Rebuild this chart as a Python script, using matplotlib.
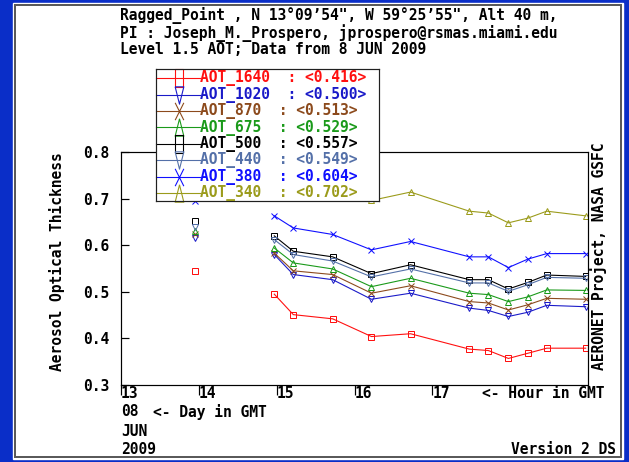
import matplotlib
matplotlib.use("Agg")
import matplotlib.pyplot as plt
from matplotlib.patches import Rectangle
from matplotlib.path import Path
import numpy as np

W, H, DPI = 629, 462, 100

# Measurement times (hour GMT, 8 June 2009)
hours = [13.957, 14.969, 15.214, 15.720, 16.218, 16.720,
         17.475, 17.720, 17.977, 18.225, 18.470, 18.970]

aot_1640 = [0.544, 0.495, 0.451, 0.442, 0.404, 0.410,
            0.377, 0.374, 0.357, 0.368, 0.379, 0.379]
aot_1020 = [0.616, 0.580, 0.537, 0.526, 0.484, 0.497,
            0.465, 0.460, 0.447, 0.456, 0.471, 0.468]
aot_870 = [0.624, 0.583, 0.545, 0.537, 0.497, 0.513,
           0.479, 0.476, 0.461, 0.472, 0.486, 0.484]
aot_675 = [0.630, 0.594, 0.562, 0.549, 0.511, 0.529,
           0.497, 0.494, 0.479, 0.489, 0.504, 0.503]
aot_500 = [0.651, 0.620, 0.587, 0.575, 0.539, 0.558,
           0.526, 0.526, 0.506, 0.520, 0.536, 0.533]
aot_440 = [0.638, 0.612, 0.580, 0.566, 0.532, 0.549,
           0.519, 0.519, 0.501, 0.515, 0.531, 0.529]
aot_380 = [0.695, 0.663, 0.637, 0.623, 0.590, 0.608,
           0.575, 0.575, 0.552, 0.570, 0.582, 0.582]
aot_340 = [0.790, 0.760, 0.745, 0.736, 0.696, 0.714,
           0.673, 0.669, 0.648, 0.658, 0.673, 0.663]

channels = ["AOT_1640", "AOT_1020", "AOT_870", "AOT_675",
            "AOT_500", "AOT_440", "AOT_380", "AOT_340"]
means = ["0.416", "0.500", "0.513", "0.529", "0.557", "0.549", "0.604", "0.702"]
series = [aot_1640, aot_1020, aot_870, aot_675, aot_500, aot_440, aot_380, aot_340]

colors = ["#ff1010", "#1a1ac8", "#8c4a1c", "#1a9a1a",
          "#000000", "#5470a8", "#1010ff", "#9b9b1b"]
small_markers = ["s", "v", "x", "^", "s", "v", "x", "^"]

xticks = [13, 14, 15, 16, 17]
yticks = [0.3, 0.4, 0.5, 0.6, 0.7, 0.8]

# tall, narrow symbols used in the key box
tall_square = Path([(-0.5, -1), (0.5, -1), (0.5, 1), (-0.5, 1), (-0.5, -1)])
tall_down = Path([(-0.5, 1), (0.5, 1), (0, -1), (-0.5, 1)])
tall_up = Path([(0, 1), (0.5, -1), (-0.5, -1), (0, 1)])
tall_x = Path([(-0.5, -1), (0.5, 1), (-0.5, 1), (0.5, -1)],
              [Path.MOVETO, Path.LINETO, Path.MOVETO, Path.LINETO])
key_markers = [tall_square, tall_down, tall_x, tall_up,
               tall_square, tall_down, tall_x, tall_up]

FONT = dict(family="DejaVu Sans Mono", weight="bold", size=10.5)
PX = 72.0 / DPI  # points per pixel


def fx(x):
    return x / W


def fy(y):
    return 1 - y / H


fig = plt.figure(figsize=(W / DPI, H / DPI), dpi=DPI)
fig.patch.set_facecolor("#0a2ec8")

# white panel with grey frame
fig.patches.append(Rectangle((fx(13), fy(459)), (623 - 13) / W, (459 - 3) / H,
                             transform=fig.transFigure, facecolor="white",
                             edgecolor="white", lw=1, zorder=-2))
fig.patches.append(Rectangle((fx(15), fy(457)), (621 - 15) / W, (457 - 5) / H,
                             transform=fig.transFigure, facecolor="white",
                             edgecolor="#5a5a5a", lw=2 * PX, zorder=-1))

# main plot
ax = fig.add_axes([fx(121), fy(385), (588 - 121) / W, (385 - 152) / H])
ax.set_zorder(1)
ax.set_xlim(13, 19)
ax.set_ylim(0.3, 0.8)
for s in ax.spines.values():
    s.set_linewidth(1.2 * PX)
    s.set_color("black")

# observations more than ~an hour apart are not joined
t = np.array(hours)
breaks = np.where(np.diff(t) > 0.9)[0] + 1
for vals, c, m in zip(series, colors, small_markers):
    v = np.array(vals)
    for seg_t, seg_v in zip(np.split(t, breaks), np.split(v, breaks)):
        ax.plot(seg_t, seg_v, color=c, lw=1.1 * PX, marker=m, ms=3.8,
                mew=1.0 * PX, mfc="none", mec=c, clip_on=True)

ax.set_yticks(yticks)
ax.set_yticklabels([f"{v:.1f}" for v in yticks], fontdict=FONT)
ax.tick_params(axis="y", direction="in", length=8 * PX, width=1.2 * PX, pad=8.5)
ax.set_xticks(xticks)
ax.set_xticklabels([str(v) for v in xticks], fontdict=FONT)
for lab in ax.get_xticklabels():
    lab.set_horizontalalignment("left")
ax.tick_params(axis="x", direction="out", length=10 * PX, width=1.2 * PX, pad=-6.2)

# key box
lax = fig.add_axes([fx(155.5), fy(201), (378.5 - 155.5) / W, (201 - 69.5) / H])
lax.set_zorder(5)
lax.set_facecolor("white")
lax.set_xlim(0, 223)
lax.set_ylim(131.5, 0)
lax.set_xticks([])
lax.set_yticks([])
for s in lax.spines.values():
    s.set_linewidth(1.2 * PX)
    s.set_color("#202020")
for i, (name, mean, c, km) in enumerate(zip(channels, means, colors, key_markers)):
    yrow = 8.8 + i * 16.4
    lax.plot([0, 44], [yrow, yrow], color=c, lw=1.1 * PX, clip_on=False)
    lax.plot([23], [yrow], color=c, marker=km, ms=12.5, mew=1.1 * PX,
             mfc="none", mec=c, clip_on=False)
    lax.text(44, yrow, f"{name}  : <{mean}>", color=c, ha="left", va="center",
             fontdict=FONT)

# header
header = ["Ragged_Point , N 13\u00b009\u201954\", W 59\u00b025\u201955\", Alt 40 m,",
          "PI : Joseph_M._Prospero, jprospero@rsmas.miami.edu",
          "Level 1.5 AOT; Data from 8 JUN 2009"]
for line, y in zip(header, [15, 33, 50]):
    fig.text(fx(120), fy(y), line, ha="left", va="center", fontdict=FONT)

fig.text(fx(57), fy(262), "Aerosol Optical Thickness", rotation=90,
         ha="center", va="center", fontdict=FONT)
fig.text(fx(599), fy(256), "AERONET Project, NASA GSFC", rotation=90,
         ha="center", va="center", fontdict=FONT)

fig.text(fx(482), fy(393), "<- Hour in GMT", ha="left", va="center", fontdict=FONT)
fig.text(fx(121), fy(412), "08", ha="left", va="center", fontdict=FONT)
fig.text(fx(153), fy(412), "<- Day in GMT", ha="left", va="center", fontdict=FONT)
fig.text(fx(121), fy(431), "JUN", ha="left", va="center", fontdict=FONT)
fig.text(fx(121), fy(450), "2009", ha="left", va="center", fontdict=FONT)
fig.text(fx(616), fy(449), "Version 2 DS", ha="right", va="center", fontdict=FONT)

fig.savefig("out.png", dpi=DPI, facecolor=fig.get_facecolor())
